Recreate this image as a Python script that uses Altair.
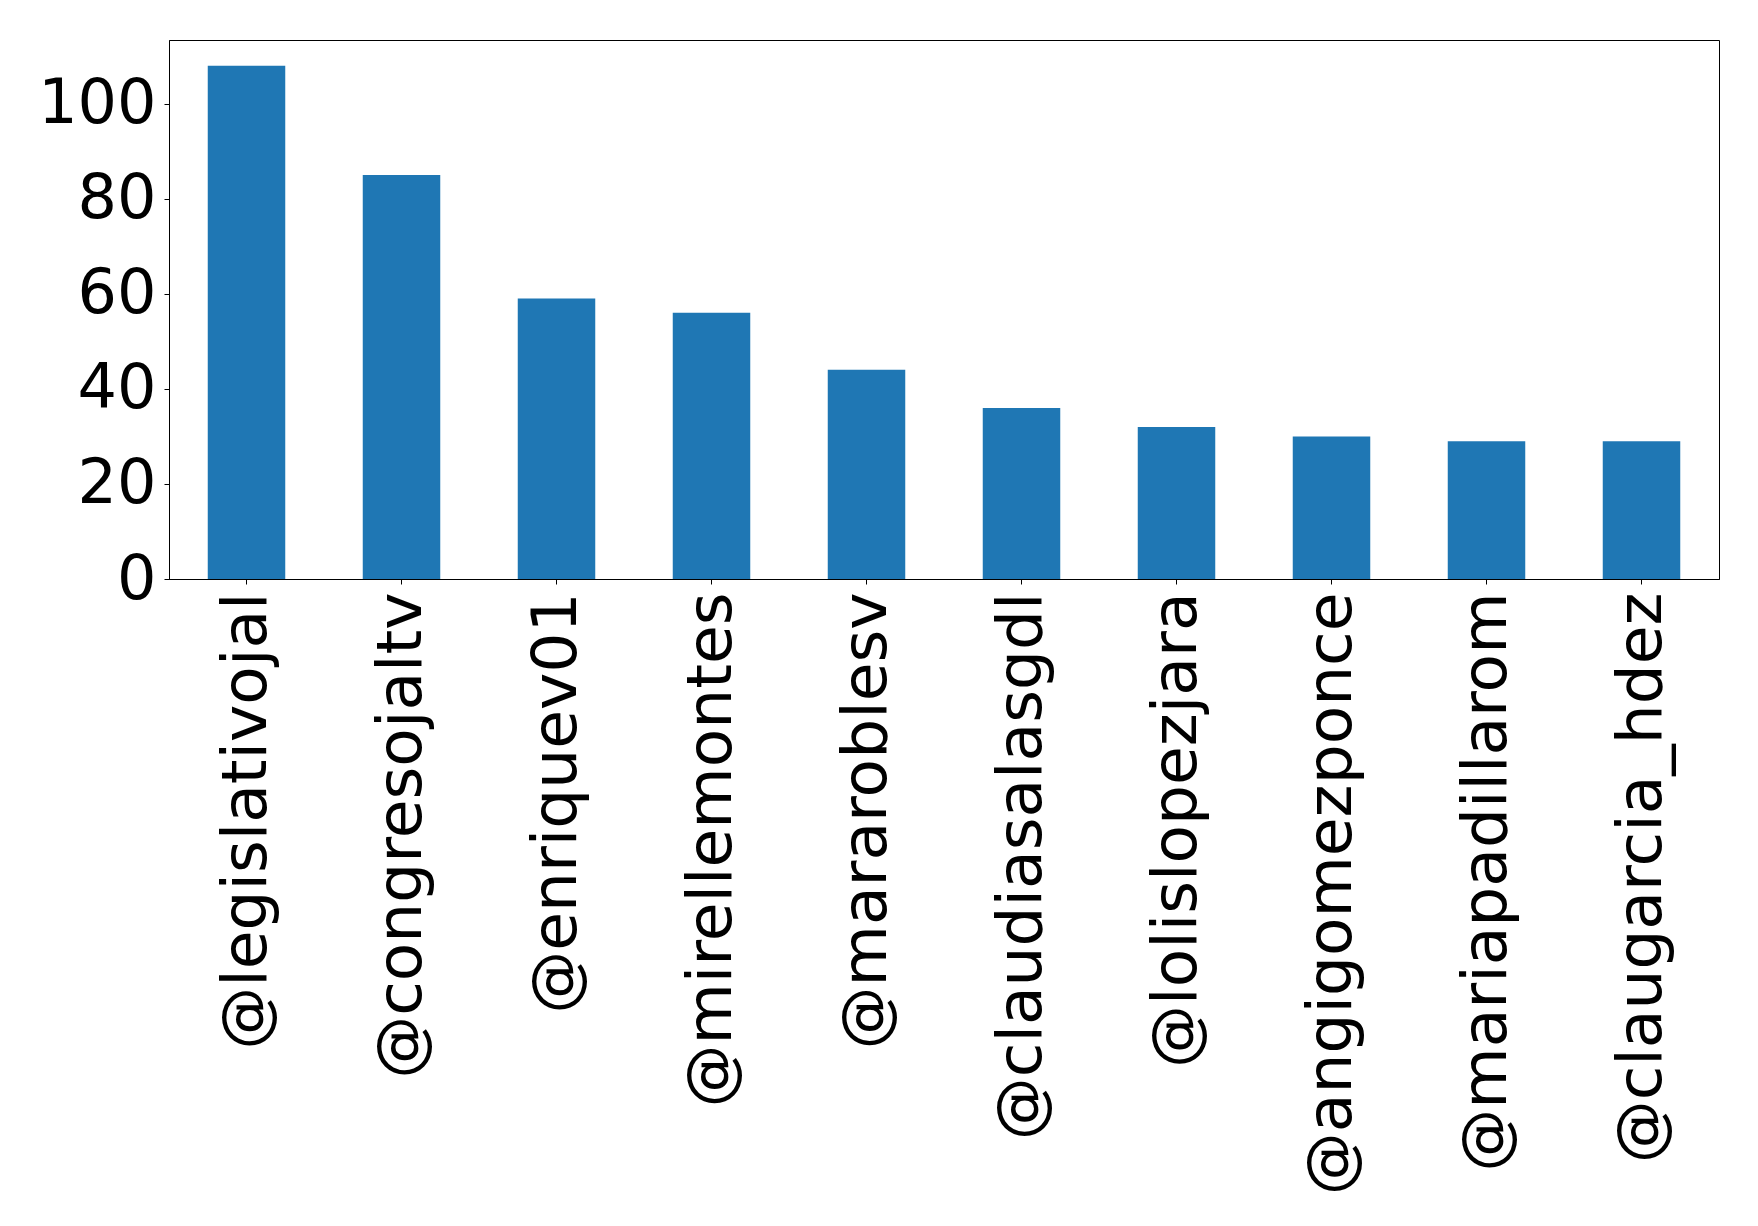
import altair as alt
import pandas as pd

accounts = ["@legislativojal", "@congresojaltv", "@enriquev01", "@mirellemontes",
            "@mararoblesv", "@claudiasalasgdl", "@lolislopezjara", "@angigomezponce",
            "@mariapadillarom", "@claugarcia_hdez"]
counts = [108, 85, 59, 56, 44, 36, 32, 30, 29, 29]
y_ticks = [0, 20, 40, 60, 80, 100]

df = pd.DataFrame({"account": accounts, "count": counts})

chart = alt.Chart(df).mark_bar(color="#1f77b4").encode(
    x=alt.X("account:N", sort=accounts,
            scale=alt.Scale(paddingInner=0.5, paddingOuter=0.25),
            axis=alt.Axis(title=None, labelAngle=-90, labelAlign="right",
                          labelBaseline="middle", labelFontSize=63, labelPadding=8,
                          tickSize=5, labelFont="DejaVu Sans", labelColor="black",
                          domainColor="black", tickColor="black", labelLimit=0)),
    y=alt.Y("count:Q", scale=alt.Scale(domain=[0, 113.4], nice=False, zero=True),
            axis=alt.Axis(title=None, values=y_ticks, grid=False, labelFontSize=62,
                          labelPadding=8, tickSize=5, labelFont="DejaVu Sans",
                          labelColor="black", domainColor="black", tickColor="black")),
).properties(
    width=1550, height=539,
    autosize=alt.AutoSizeParams(type="none"),
    padding={"left": 161, "top": 32, "right": 30, "bottom": 620},
).configure_view(stroke="black", strokeWidth=1)

chart.save("out.html", embed_options={"renderer": "svg", "actions": False})
